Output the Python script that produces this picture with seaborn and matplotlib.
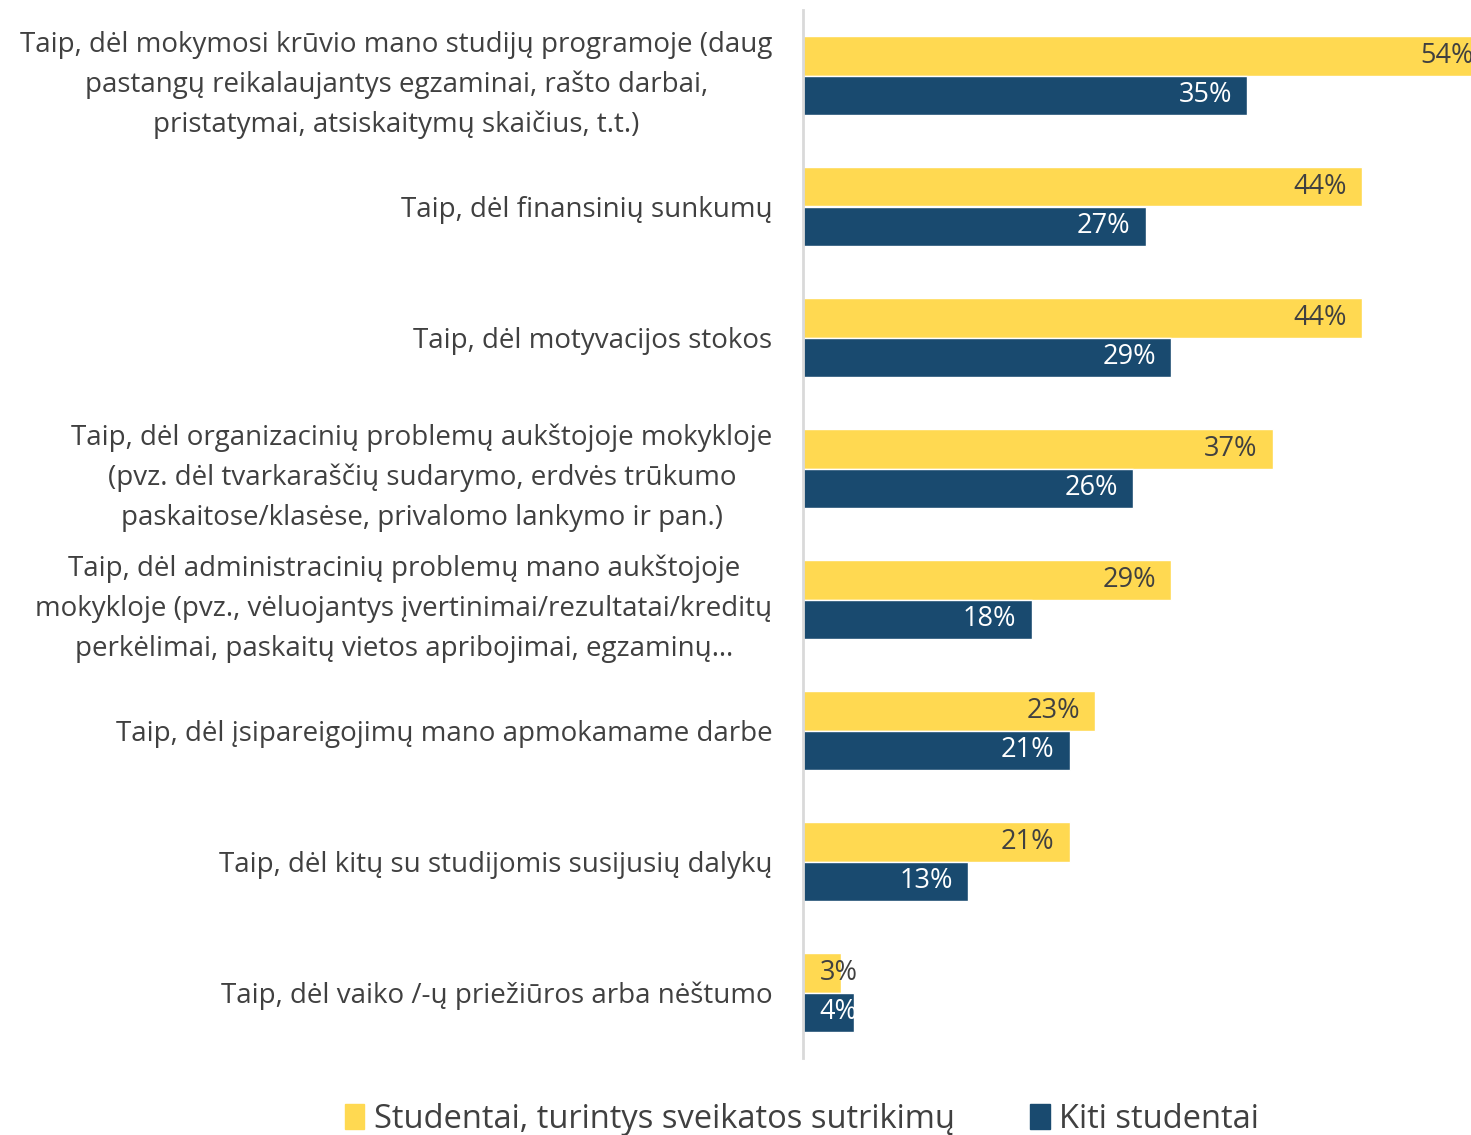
import pandas as pd
import matplotlib
matplotlib.use('Agg')
import matplotlib.pyplot as plt
import seaborn as sns

"""Chart data"""
categories = [
    'Taip, dėl mokymosi krūvio mano studijų programoje (daug\npastangų reikalaujantys egzaminai, rašto darbai,\npristatymai, atsiskaitymų skaičius, t.t.)',
    'Taip, dėl finansinių sunkumų',
    'Taip, dėl motyvacijos stokos',
    'Taip, dėl organizacinių problemų aukštojoje mokykloje\n(pvz. dėl tvarkaraščių sudarymo, erdvės trūkumo\npaskaitose/klasėse, privalomo lankymo ir pan.)',
    'Taip, dėl administracinių problemų mano aukštojoje\nmokykloje (pvz., vėluojantys įvertinimai/rezultatai/kreditų\nperkėlimai, paskaitų vietos apribojimai, egzaminų…',
    'Taip, dėl įsipareigojimų mano apmokamame darbe',
    'Taip, dėl kitų su studijomis susijusių dalykų',
    'Taip, dėl vaiko /-ų priežiūros arba nėštumo',
]
series_names = ['Studentai, turintys sveikatos sutrikimų', 'Kiti studentai']
health_issues = [54, 44, 44, 37, 29, 23, 21, 3]
other_students = [35, 27, 29, 26, 18, 21, 13, 4]
colors = ['#FFD951', '#194A6F']
label_colors = ['#404040', 'white']


def build_frame():
    rows = []
    for name, values in zip(series_names, [health_issues, other_students]):
        for cat, val in zip(categories, values):
            rows.append({'category': cat, 'group': name, 'value': val})
    return pd.DataFrame(rows)


if __name__ == '__main__':
    df = build_frame()

    sns.set_style('white')
    plt.rcParams['font.family'] = ['Open Sans', 'DejaVu Sans']

    fig = plt.figure(figsize=(14.71, 11.35), dpi=100)
    ax = fig.add_axes([803 / 1471, 1 - 1058 / 1135, 1 - 803 / 1471, (1058 - 10) / 1135])

    sns.barplot(data=df, y='category', x='value', hue='group', orient='h',
                palette=colors, hue_order=series_names, order=categories,
                width=0.61, saturation=1, ax=ax, legend=False)

    ax.set_xlim(0, 52.6)
    ax.set_xlabel('')
    ax.set_ylabel('')
    ax.set_xticks([])
    for side in ['top', 'right', 'bottom']:
        ax.spines[side].set_visible(False)
    ax.spines['left'].set_color('#D9D9D9')
    ax.spines['left'].set_linewidth(2)
    ax.tick_params(axis='y', length=0, pad=22, labelsize=20, labelcolor='#404040')
    for lbl in ax.get_yticklabels():
        lbl.set_multialignment('center')
        lbl.set_linespacing(1.55)

    # data labels inside the bar end
    for container, tcol in zip(ax.containers, label_colors):
        for patch in container.patches:
            val = patch.get_width()
            yc = patch.get_y() + patch.get_height() / 2
            if val < 6:
                ax.text(1.3, yc, f'{val:.0f}%', ha='left', va='center',
                        fontsize=19.5, color=tcol, clip_on=False)
            else:
                ax.text(val - 1.2, yc, f'{val:.0f}%', ha='right', va='center',
                        fontsize=19.5, color=tcol, clip_on=False)

    handles = [plt.Rectangle((0, 0), 1, 1, color=c) for c in colors]
    fig.legend(handles, series_names, loc='center', bbox_to_anchor=(802 / 1471, 0.014),
               ncol=2, frameon=False, fontsize=23.5, labelcolor='#404040',
               handlelength=0.6, handleheight=0.8, handletextpad=0.3, columnspacing=2.3)

    plt.savefig('out.png', dpi=100)
    plt.close()
